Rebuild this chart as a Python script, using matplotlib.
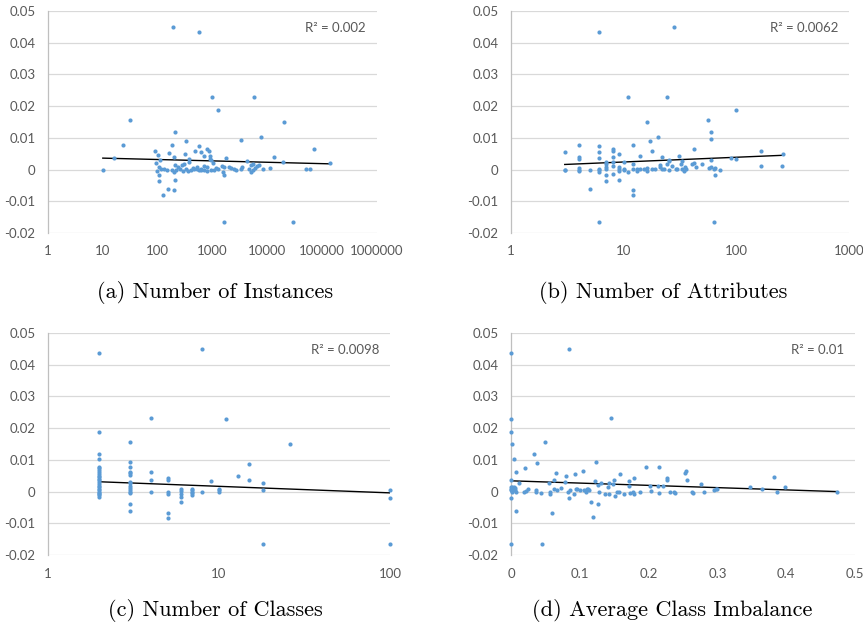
import matplotlib
matplotlib.use("Agg")
import matplotlib.pyplot as plt
import numpy as np

# (a) number of instances vs. difference
inst_x = [10, 15.8, 23.8, 31.5, 194, 565, 1000, 1245, 5620, 20400,
          7660, 3290, 208, 331, 181, 557, 794, 863, 89, 70800,
          100, 159, 478, 605, 313, 710, 912, 1780, 13400, 4270,
          19600, 137000, 92, 200, 109, 376, 370, 900, 1030, 960,
          210, 280, 300, 5000, 5400, 6500, 7100, 11000, 50000, 60000,
          1500, 1600, 1980, 2500, 3290, 4600, 5900, 8500, 97, 106,
          130, 150, 180, 260, 290, 330, 360, 445, 515, 570,
          630, 710, 780, 940, 1060, 1580, 1600, 2150, 2670, 5000,
          104, 105, 153, 123, 200, 211, 1600, 29000, 117, 220,
          200, 240, 525, 1140, 3500, 5400, 400, 460, 1240, 605,
          800, 690]
inst_y = [0, 0.00375, 0.0078, 0.0157, 0.0449, 0.0435, 0.023, 0.01875, 0.023, 0.015,
          0.0104, 0.0094, 0.0118, 0.0089, 0.0077, 0.0074, 0.0064, 0.006, 0.006, 0.0064,
          0.0047, 0.0053, 0.0057, 0.0054, 0.0049, 0.0042, 0.0043, 0.0035, 0.0038, 0.0026,
          0.0024, 0.002, 0.0022, 0.0038, 0.003, 0.0034, 0.0025, 0.0032, 0.0022, 0.0029,
          0.0014, 0.0014, 0.0017, 0.0015, 0.0019, 0.0011, 0.0014, 0.0005, 0.0003, 0.0001,
          0.0011, 0.0008, 0.0009, 0.0003, 0.0003, 0.0003, 0.0005, 0.0003, -0.0004, 0.0007,
          0.0003, -0.0002, -0.0003, 0.0003, -0.0004, 0.0001, -0.0006, 0.0005, 0.0007, -0.0002,
          0.0003, 0, -0.0006, 0, 0, -0.0007, -0.0018, 0.0005, 0, -0.0009,
          -0.0036, -0.0018, -0.006, -0.008, -0.0066, -0.0033, -0.0166, -0.0164, 0.0001, 0,
          -0.0007, 0.0008, 0.0003, 0.0005, 0.0008, 0, 0, 0.0001, 0.0001, -0.0002,
          0.0007, 0.0011]

# (b) number of attributes
attr_x = [3, 3, 3, 4, 4, 4, 4, 4, 4, 5,
          5, 6, 6, 6, 6, 6, 6, 6, 6, 7,
          7, 7, 7, 7, 7, 8, 8, 8, 8, 8,
          8, 9, 9, 9, 9, 9, 10, 10, 10, 11,
          11, 12, 12, 12, 12, 12, 13, 13, 14, 14,
          15, 16, 16, 16, 17, 18, 18, 19, 20, 21,
          21, 22, 22, 23, 24, 24, 25, 25, 25, 27,
          28, 29, 30, 31, 32, 33, 33, 34, 35, 36,
          40, 42, 42, 44, 50, 56, 57, 59, 60, 60,
          60, 63, 63, 64, 65, 72, 90, 100, 100, 165,
          165, 255, 262]
attr_y = [0.0054, 0, -0.0003, 0.0078, 0.0038, 0.0033, 0.0004, 0, -0.0005, -0.006,
          0, 0.0435, 0.0074, 0.0055, 0.0036, 0.0003, -0.0002, -0.0007, -0.0164, 0.0024,
          0.0017, 0.0008, 0.0003, -0.0018, -0.0036, 0.0064, 0.006, 0.0038, 0.0023, 0.001,
          -0.0013, 0.0048, 0.0008, 0.0001, -0.0004, -0.0033, 0.0024, 0.0003, -0.0003, 0.023,
          -0.0008, 0.0078, 0.0016, 0.0001, -0.0066, -0.008, 0.0001, -0.0005, 0.0044, 0.0003,
          0.0001, 0.015, 0.0004, -0.0005, 0.0089, 0.006, 0.0001, 0.0003, 0.0104, 0.0014,
          0.0007, 0.0039, 0.0003, 0.0003, 0.023, 0.0017, 0.003, 0.0026, 0, 0.001,
          0.0449, 0.0001, 0.0001, 0.0044, 0.0018, 0.0028, 0.0003, -0.0004, 0.0007, 0.0003,
          0.0017, 0.0021, 0.0065, 0.0008, 0.0019, 0.0157, 0.0004, 0.0029, 0.0118, 0.0095,
          0.0007, 0.0003, -0.0164, -0.0018, 0.0004, 0, 0.0035, 0.01875, 0.0034, 0.0058,
          0.0012, 0.001, 0.0049]

# (c) number of classes
class_x = [2, 2, 2, 2, 2, 2, 2, 2, 2, 2, 2, 2,
           2, 2, 2, 2, 2, 2, 2, 2, 2, 2, 2, 2,
           3, 3, 3, 3, 3, 3, 3, 3, 3, 3, 3, 3, 3, 3, 3,
           4, 4, 4, 4,
           5, 5, 5, 5, 5, 5,
           6, 6, 6, 6, 6,
           7, 7, 7, 7, 7,
           8, 8, 9, 10, 10, 10, 11, 13, 15, 15,
           18, 18, 18, 26, 100, 100, 100]
class_y = [0.0438, 0.0188, 0.0118, 0.0104, 0.0079, 0.0074, 0.0068, 0.0061, 0.0054, 0.005, 0.0045, 0.004,
           0.0035, 0.0029, 0.0024, 0.0019, 0.0014, 0.0008, 0.0004, 0, -0.0003, -0.0007, -0.0012, -0.0016,
           0.0157, 0.0094, 0.0076, 0.0063, 0.0058, 0.0052, 0.0031, 0.0026, 0.0019, 0.001, 0.0005, 0, -0.0005, -0.0038, -0.0062,
           0.0231, 0.0061, 0.0036, 0,
           0.0043, 0.0038, 0, -0.0007, -0.0066, -0.0082,
           0.0008, 0.0003, -0.0007, -0.0018, -0.0034,
           0.0009, 0.0004, -0.0001, -0.0005, -0.001,
           0.045, 0, 0.0032, 0.0008, 0.0004, 0, 0.023, 0.0049, 0.0088, 0.0036,
           0.0026, 0.0004, -0.0165, 0.0151, 0.0005, -0.0019, -0.0166]

# (d) average class imbalance
imb_x = [0, 0, 0, 0.001, 0.0045, 0, 0, 0, 0, 0.0015,
         0.003, 0.004, 0.0055, 0.0015, 0, 0, 0.002, 0.006, 0.001, 0.0073,
         0.0073, 0.008, 0.011, 0.0185, 0.02, 0.022, 0.025, 0.034, 0.036, 0.037,
         0.0385, 0.0434, 0.0454, 0.0488, 0.0546, 0.056, 0.0566, 0.06, 0.062, 0.0624,
         0.0654, 0.0663, 0.072, 0.078, 0.08, 0.0834, 0.0844, 0.085, 0.086, 0.0917,
         0.093, 0.094, 0.096, 0.1005, 0.104, 0.1063, 0.109, 0.11, 0.112, 0.114,
         0.1166, 0.1185, 0.122, 0.124, 0.126, 0.1263, 0.128, 0.131, 0.1366, 0.1405,
         0.142, 0.143, 0.145, 0.148, 0.15, 0.1517, 0.1546, 0.1566, 0.158, 0.164,
         0.171, 0.172, 0.1727, 0.1776, 0.179, 0.1795, 0.188, 0.1956, 0.2015, 0.204,
         0.214, 0.215, 0.2156, 0.2205, 0.2263, 0.2268, 0.231, 0.237, 0.238, 0.2527,
         0.255, 0.2556, 0.2624, 0.264, 0.276, 0.281, 0.295, 0.298, 0.2995, 0.348,
         0.365, 0.382, 0.387, 0.398, 0.4746]
imb_y = [0.0438, 0.023, 0.0188, 0.0151, 0.0104, 0.0035, 0.0016, 0.0008, 0.0004, 0,
         0.0007, 0.0013, 0.0005, 0.0015, -0.0019, -0.0166, 0.0009, 0.0011, 0.0003, -0.0062,
         0.0061, 0, 0.0026, 0, 0.0074, 0.0002, 0.0007, 0.0118, 0.0005, 0,
         0.0089, -0.0003, -0.0166, 0.0157, 0.0028, 0, -0.0006, -0.0066, 0.0036, 0.0008,
         0.0059, 0.0004, 0.001, 0.0031, 0.0049, 0, -0.0019, 0.045, 0.0004, -0.0006,
         0.0054, 0.0008, 0.0007, 0.0004, 0.0064, 0.0005, 0, 0.0008, 0.0007, 0.0005,
         -0.0034, -0.0081, 0.0032, 0.0094, -0.0038, 0.0022, 0, 0.0028, -0.0006, 0.0016,
         0.0028, -0.0009, 0.0231, 0.0024, 0.0038, -0.0014, 0, 0, 0.0055, -0.0009,
         0.0032, 0.0018, -0.0004, 0, -0.0009, 0.0042, 0, 0.0077, 0.0018, 0.0002,
         0.0018, -0.0003, 0.0077, 0.0018, 0.0042, 0.0035, 0, 0, -0.0003, 0.0059,
         0.0064, 0.0037, 0, -0.0003, 0.0024, 0, 0.0005, 0.0007, 0.0007, 0.0013,
         0.0007, 0.0047, 0, 0.0013, 0]

# trend line values at the smallest / largest x
trend_a = [0.0036, 0.0018]
trend_b = [0.0016, 0.0045]
trend_c = [0.0031, -0.0004]
trend_d = [0.0034, 0.0]

r2_labels = ["R² = 0.002", "R² = 0.0062", "R² = 0.0098", "R² = 0.01"]
captions = ["(a) Number of Instances", "(b) Number of Attributes",
            "(c) Number of Classes", "(d) Average Class Imbalance"]

y_ticks = [-0.02, -0.01, 0, 0.01, 0.02, 0.03, 0.04, 0.05]
y_labels = ["-0.02", "-0.01", "0", "0.01", "0.02", "0.03", "0.04", "0.05"]
xt_a = [1, 10, 100, 1000, 10000, 100000, 1000000]
xt_b = [1, 10, 100, 1000]
xt_c = [1, 10, 100]
xt_d = [0, 0.1, 0.2, 0.3, 0.4, 0.5]
xl_d = ["0", "0.1", "0.2", "0.3", "0.4", "0.5"]

DOT = "#5B9BD5"
TXT = "#595959"
GRID = "#D9D9D9"
TICKFONT = "Lato"


def draw_panel(ax, x, y, trend, r2, xticks, xlabels, log=True):
    x = np.array(x)
    ax.set_ylim(-0.02, 0.05)
    if log:
        ax.set_xscale("log")
    ax.set_xlim(xticks[0], xticks[-1])
    ax.set_yticks(y_ticks)
    ax.set_yticklabels(y_labels)
    ax.set_xticks(xticks)
    ax.set_xticklabels(xlabels)
    ax.minorticks_off()
    ax.grid(axis="y", color=GRID, lw=0.9)
    ax.set_axisbelow(True)
    for s in ["top", "right", "bottom"]:
        ax.spines[s].set_visible(False)
    ax.spines["left"].set_color("#BFBFBF")
    ax.spines["left"].set_linewidth(0.9)
    ax.tick_params(length=0, labelsize=9.5, labelcolor=TXT)
    ax.tick_params(axis="y", pad=9)
    ax.tick_params(axis="x", pad=9)
    for lab in ax.get_xticklabels() + ax.get_yticklabels():
        lab.set_fontfamily(TICKFONT)
    ax.plot([x.min(), x.max()], trend, color="black", lw=1.0, zorder=3)
    ax.scatter(x, y, s=9, color=DOT, linewidths=0, zorder=4, clip_on=False)
    ax.annotate(r2, xy=(1, 1), xycoords="axes fraction", xytext=(-8, -12),
                textcoords="offset points", ha="right", va="center",
                fontsize=9.5, color=TXT, fontfamily=TICKFONT)


fig = plt.figure(figsize=(8.63, 6.3), dpi=100)
ax_a = fig.add_axes([0.0556, 0.6302, 0.3812, 0.3524])
ax_b = fig.add_axes([0.5921, 0.6302, 0.3917, 0.3524])
ax_c = fig.add_axes([0.0556, 0.1190, 0.3963, 0.3524])
ax_d = fig.add_axes([0.5921, 0.1190, 0.3986, 0.3524])

draw_panel(ax_a, inst_x, inst_y, trend_a, r2_labels[0], xt_a, [str(v) for v in xt_a])
draw_panel(ax_b, attr_x, attr_y, trend_b, r2_labels[1], xt_b, [str(v) for v in xt_b])
draw_panel(ax_c, class_x, class_y, trend_c, r2_labels[2], xt_c, [str(v) for v in xt_c])
draw_panel(ax_d, imb_x, imb_y, trend_d, r2_labels[3], xt_d, xl_d, log=False)

cap_pos = [(215 / 863, 1 - 292 / 630), (663 / 863, 1 - 292 / 630),
           (215 / 863, 1 - 610 / 630), (672 / 863, 1 - 610 / 630)]
for (cx, cy), cap in zip(cap_pos, captions):
    fig.text(cx, cy, cap, ha="center", va="center", fontsize=16,
             fontfamily="cmr10", color="black")

fig.savefig("out.png", dpi=100)
